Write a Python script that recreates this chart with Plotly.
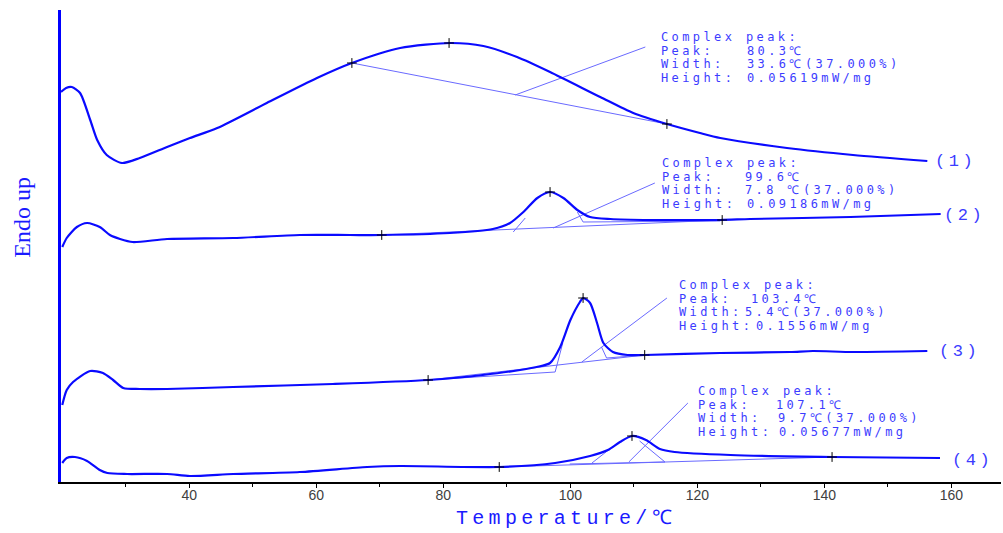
import plotly.graph_objects as go

# ---------------- data (temperature in degC, heat flow in arbitrary units, curves offset) -------------
temp1 = [19.8, 20.6, 21.5, 22.8, 24.4, 25.5, 27.0, 29.4, 32.2, 36.5, 40.1, 44.4, 52.2, 60.1, 65.6, 73.2,
         81.1, 86.3, 91.6, 96.8, 104.7, 109.9, 115.2, 120.4, 123.6, 134.1, 144.5, 156.2]
hf1 = [3.90, 3.94, 3.95, 3.89, 3.62, 3.42, 3.27, 3.19, 3.24, 3.35, 3.44, 3.54, 3.79, 4.04, 4.19, 4.34,
       4.39, 4.36, 4.25, 4.10, 3.85, 3.69, 3.58, 3.49, 3.44, 3.34, 3.27, 3.21]

temp2 = [20.0, 20.7, 22.3, 23.9, 25.9, 27.5, 29.1, 31.1, 36.5, 46.9, 57.4, 65.3, 70.3, 81.0, 87.8,
         90.5, 92.6, 94.8, 96.8, 98.9, 101.1, 103.1, 106.3, 112.6, 123.6, 128.3, 144.1, 158.3]
hf2 = [2.35, 2.44, 2.55, 2.59, 2.55, 2.47, 2.43, 2.40, 2.43, 2.44, 2.47, 2.47, 2.47, 2.49, 2.53,
       2.59, 2.70, 2.84, 2.90, 2.84, 2.72, 2.65, 2.63, 2.62, 2.62, 2.63, 2.65, 2.68]

temp3 = [20.0, 20.7, 21.7, 24.4, 26.4, 28.0, 29.6, 32.2, 36.5, 46.9, 62.6, 77.6, 86.2, 94.7, 96.8,
         98.4, 100.0, 101.5, 102.0, 103.1, 104.2, 105.2, 106.7, 109.0, 111.7, 123.6, 134.6, 138.2,
         144.5, 156.2]
hf3 = [0.77, 0.92, 1.00, 1.11, 1.09, 1.02, 0.94, 0.93, 0.93, 0.95, 0.98, 1.02, 1.07, 1.15, 1.19,
       1.35, 1.62, 1.80, 1.84, 1.79, 1.59, 1.39, 1.30, 1.27, 1.27, 1.29, 1.30, 1.31,
       1.30, 1.31]

temp4 = [20.0, 20.7, 22.0, 23.9, 25.9, 27.1, 30.2, 36.5, 40.1, 46.9, 57.4, 68.0, 73.2, 88.8, 97.6,
         103.1, 105.9, 107.8, 109.7, 111.9, 114.1, 116.4, 125.2, 141.2, 158.2]
hf4 = [0.19, 0.24, 0.25, 0.21, 0.12, 0.09, 0.08, 0.08, 0.06, 0.08, 0.10, 0.15, 0.16, 0.15, 0.19,
       0.26, 0.32, 0.40, 0.46, 0.42, 0.33, 0.30, 0.27, 0.25, 0.24]

curves_t = [temp1, temp2, temp3, temp4]
curves_h = [hf1, hf2, hf3, hf4]
curve_names = ["(1)", "(2)", "(3)", "(4)"]
curve_label_t = [157.1, 158.5, 157.7, 159.7]
curve_label_h = [3.21, 2.67, 1.31, 0.22]

# peak-analysis markers: onset, peak, end (temperature, heat flow)
marks_t = [[65.6, 80.9, 115.2], [70.3, 96.8, 123.9], [77.6, 102.0, 111.7], [88.8, 109.7, 141.2]]
marks_h = [[4.19, 4.39, 3.58], [2.47, 2.90, 2.62], [1.02, 1.84, 1.27], [0.15, 0.46, 0.25]]

# construction lines (polylines) for each peak
constr_t = [
    [[65.6, 115.2], [91.3, 111.8]],
    [[70.3, 123.9], [91.0, 92.9], [101.1, 102.0, 123.6], [97.3, 113.3]],
    [[77.6, 111.7], [77.6, 97.6, 98.8], [104.9, 105.7, 111.7], [101.8, 115.2]],
    [[88.8, 141.2], [99.9, 114.9], [103.4, 106.2], [110.9, 114.9], [109.2, 118.5]],
]
constr_h = [
    [[4.19, 3.58], [3.87, 4.35]],
    [[2.47, 2.62], [2.50, 2.64], [2.70, 2.60, 2.61], [2.54, 2.99]],
    [[1.02, 1.27], [1.02, 1.10, 1.39], [1.35, 1.24, 1.27], [1.20, 1.84]],
    [[0.15, 0.25], [0.18, 0.20], [0.19, 0.33], [0.41, 0.20], [0.20, 0.79]],
]

# peak result text blocks
info_labels = ["Complex peak:", "Peak:", "Width:", "Height:"]
info_values = [
    ["80.3℃", "33.6℃(37.000%)", "0.05619mW/mg"],
    ["99.6℃", "7.8 ℃(37.000%)", "0.09186mW/mg"],
    ["103.4℃", "5.4℃(37.000%)", "0.1556mW/mg"],
    ["107.1℃", "9.7℃(37.000%)", "0.05677mW/mg"],
]
info_label_t = [114.1, 114.2, 117.0, 120.0]
info_value_t = [[127.7, 127.7, 127.7], [127.4, 127.4, 127.7], [128.3, 127.4, 129.0], [132.2, 132.5, 132.7]]
info_top_h = [4.45, 3.19, 1.97, 0.91]
info_line_step = 0.136

x_tick_vals = [40, 60, 80, 100, 120, 140, 160]
x_minor_vals = [30, 50, 70, 90, 110, 130, 150]
x_range = [19.8, 167.8]
y_range = [0, 4.72]

# ---------------- figure ----------------
CURVE = "#0a0aff"
THIN = "#6a6aff"
TXT = "#3c3cff"

fig = go.Figure()

for t_list, h_list in zip(constr_t, constr_h):
    for tt, hh in zip(t_list, h_list):
        fig.add_trace(go.Scatter(x=tt, y=hh, mode="lines",
                                 line=dict(color=THIN, width=1), hoverinfo="skip"))

for tt, hh in zip(curves_t, curves_h):
    fig.add_trace(go.Scatter(x=tt, y=hh, mode="lines",
                             line=dict(color=CURVE, width=2.2, shape="spline", smoothing=0.7)))

for tt, hh in zip(marks_t, marks_h):
    fig.add_trace(go.Scatter(x=tt, y=hh, mode="markers",
                             marker=dict(symbol="cross-thin", size=7,
                                         line=dict(color="#000000", width=1))))


def spaced(text, px):
    return f'<span style="letter-spacing:{px}px">{text}</span>'


INFO_FONT = dict(family="DejaVu Sans Mono", size=12, color=TXT)
INFO_LS = 3.4
ann = []
for i in range(4):
    for j in range(4):
        yy = info_top_h[i] - j * info_line_step
        ann.append(dict(x=info_label_t[i], y=yy, xref="x", yref="y",
                        text=spaced(info_labels[j], INFO_LS), showarrow=False,
                        xanchor="left", yanchor="middle", borderpad=0, font=INFO_FONT))
        if j > 0:
            ann.append(dict(x=info_value_t[i][j - 1], y=yy, xref="x", yref="y",
                            text=spaced(info_values[i][j - 1], INFO_LS), showarrow=False,
                            xanchor="left", yanchor="middle", borderpad=0, font=INFO_FONT))
    ann.append(dict(x=curve_label_t[i], y=curve_label_h[i], xref="x", yref="y",
                    text=spaced(curve_names[i], 3.5), showarrow=False,
                    xanchor="left", yanchor="middle",
                    font=dict(family="Liberation Mono", size=17, color=TXT)))

ann.append(dict(x=0.537, y=-0.0763, xref="paper", yref="paper",
                text=spaced("Temperature/℃", 4.3), showarrow=False,
                xanchor="center", yanchor="middle",
                font=dict(family="Liberation Mono", size=20, color="#1a1aff")))
ann.append(dict(x=-0.041, y=0.561, xref="paper", yref="paper", textangle=-90,
                text="Endo up", showarrow=False, xanchor="center", yanchor="middle",
                font=dict(family="Liberation Serif", size=24, color="#1a1aff")))

fig.update_layout(
    width=1003, height=533,
    margin=dict(l=61, r=2, t=10, b=51),
    paper_bgcolor="white", plot_bgcolor="white",
    showlegend=False,
    annotations=ann,
    xaxis=dict(range=x_range, showgrid=False, zeroline=False,
               showline=True, linecolor="#000000", linewidth=1.5,
               tickvals=x_tick_vals, ticks="outside", ticklen=4, tickcolor="#000000",
               ticklabelstandoff=-5,
               tickfont=dict(family="Liberation Sans", size=14, color="#404040"),
               minor=dict(tickvals=x_minor_vals, ticks="outside", ticklen=3,
                          tickcolor="#000000", showgrid=False)),
    yaxis=dict(range=y_range, showgrid=False, zeroline=False,
               showline=True, linecolor="#0000ff", linewidth=2.5,
               showticklabels=False, ticks=""),
)

fig.write_html("out.html", config={"displayModeBar": False},
               post_script="document.body.style.margin='0';")
